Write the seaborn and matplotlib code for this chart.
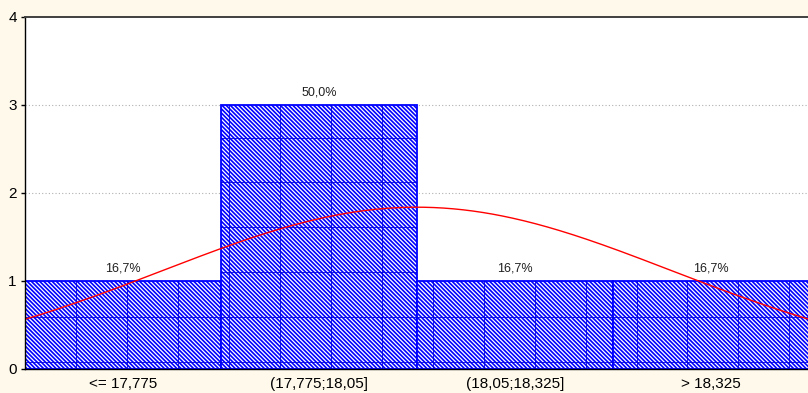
import numpy as np
import pandas as pd
import matplotlib
matplotlib.use("Agg")
import matplotlib.pyplot as plt
from matplotlib.collections import LineCollection
import seaborn as sns

# Histogram classes, counts and fitted normal parameters
labels = ["<= 17,775", "(17,775;18,05]", "(18,05;18,325]", "> 18,325"]
counts = [1, 3, 1, 1]
bin_edges = [17.5, 17.775, 18.05, 18.325, 18.6]
fit_mean = 18.05
fit_sd = 0.358
y_ticks = [0, 1, 2, 3, 4]

BG = "#fff9ec"
BLUE = "#0000ff"
GRIDBLUE = "#0000e0"

sns.set_theme(style="white")
plt.rcParams["font.family"] = ["Liberation Sans", "DejaVu Sans"]
plt.rcParams["hatch.linewidth"] = 1.2
plt.rcParams["hatch.color"] = BLUE

W, H = 808, 393
fig = plt.figure(figsize=(W / 100, H / 100), dpi=100, facecolor=BG)
ax = fig.add_axes([25 / W, 24 / H, 784 / W, 352 / H])
ax.set_facecolor("white")

df = pd.DataFrame({"klasa": labels, "n": counts})
sns.barplot(data=df, x="klasa", y="n", width=1.0, color=BLUE, saturation=1,
            ax=ax, zorder=2)

ax.set_xlim(-0.5, len(labels) - 0.5)
ax.set_ylim(0, 4)

# dotted horizontal reference lines
for yv in y_ticks[1:-1]:
    ax.axhline(yv, color="#b0b0b0", ls=(0, (1, 2)), lw=0.8, zorder=1)

# hatched bars with an inner cell grid
cell_dx = 0.26
cell_dy = 0.51
for p in ax.patches:
    p.set_facecolor("white")
    p.set_edgecolor(BLUE)
    p.set_hatch("\\" * 8)
    p.set_linewidth(1.3)
    segs = []
    xv = -0.5 + cell_dx
    while xv < len(labels):
        segs.append([(xv, 0), (xv, 4)])
        xv += cell_dx
    yv = 0.08
    while yv < 4:
        segs.append([(-0.5, yv), (len(labels), yv)])
        yv += cell_dy
    lc = LineCollection(segs, colors=GRIDBLUE, linewidths=0.6, zorder=2.5)
    ax.add_collection(lc)
    lc.set_clip_path(p)

# percentage labels above bars
total = sum(counts)
for i, c in enumerate(counts):
    txt = f"{100 * c / total:.1f}%".replace(".", ",")
    ax.annotate(txt, (i, c), xytext=(0, 5), textcoords="offset points",
                ha="center", va="bottom", fontsize=9, color="#202020")

# fitted normal curve scaled to counts
binw = bin_edges[1] - bin_edges[0]
pos = np.linspace(-0.5, len(labels) - 0.5, 400)
vals = bin_edges[0] + (pos + 0.5) * binw
dens = total * binw * np.exp(-0.5 * ((vals - fit_mean) / fit_sd) ** 2) / (fit_sd * np.sqrt(2 * np.pi))
ax.plot(pos, dens, color="#ff0000", lw=1.0, zorder=4)

ax.set_xlabel("")
ax.set_ylabel("")
ax.set_yticks(y_ticks)
ax.set_yticklabels([str(v) for v in y_ticks])
ax.tick_params(axis="y", left=True, length=3, width=1, color="black", pad=3,
               labelsize=11, labelcolor="black")
ax.tick_params(axis="x", bottom=False, length=0, pad=6, labelsize=11,
               labelcolor="black")

for side in ["left", "bottom"]:
    ax.spines[side].set_visible(True)
    ax.spines[side].set_color("black")
    ax.spines[side].set_linewidth(1.0)
ax.spines["top"].set_color("#404040")
ax.spines["top"].set_linewidth(1.4)
ax.spines["right"].set_visible(False)
for s in ax.spines.values():
    s.set_zorder(5)

fig.savefig("out.png", dpi=100, facecolor=BG)
